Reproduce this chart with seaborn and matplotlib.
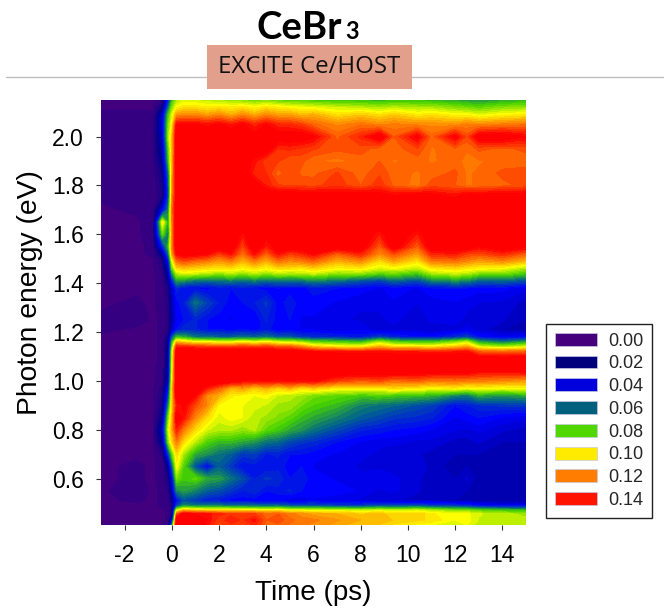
import numpy as np
import matplotlib
matplotlib.use("Agg")
import matplotlib.pyplot as plt
from matplotlib.lines import Line2D
from matplotlib.patches import Patch, Rectangle
import seaborn as sns

sns.set_style("ticks")
plt.rcParams['font.family'] = ['Liberation Sans', 'DejaVu Sans']
plt.rcParams['axes.unicode_minus'] = False

times = [-3, -1.5, -0.8, -0.4, -0.15, 0, 0.2, 0.5, 1, 1.5, 2, 2.5, 3, 3.5, 4, 4.5, 5, 5.5, 6, 7, 8, 8.8, 9.4, 10.4, 11, 12, 12.5, 13, 14, 15]
energies = [2.15, 2.12, 2.09, 2.05, 2.0, 1.95, 1.9, 1.85, 1.8, 1.76, 1.7, 1.65, 1.6, 1.55, 1.52, 1.49, 1.46, 1.44, 1.41, 1.38, 1.32, 1.25, 1.21, 1.18, 1.16, 1.14, 1.12, 1.09, 1.04, 1.0, 0.97, 0.94, 0.9, 0.85, 0.8, 0.75, 0.7, 0.65, 0.6, 0.55, 0.51, 0.49, 0.47, 0.455, 0.43, 0.41]

# signal in thousandths, one list per photon energy
r215 = [3,3,3,6,45,75,90,95,94,92,90,88,86,84,86,82,80,80,78,76,76,74,76,76,74,72,70,68,72,74]
r212 = [3,3,3,15,60,85,100,104,104,102,104,102,104,100,104,102,100,98,97,94,92,90,92,90,90,86,84,82,86,88]
r209 = [4,4,4,30,78,95,115,118,118,114,118,112,118,112,118,114,114,110,112,104,108,104,108,102,104,100,100,96,100,102]
r205 = [4,4,4,35,85,100,140,141,141,138,141,136,141,134,140,134,133,130,124,118,122,118,120,118,118,116,120,118,120,122]
r200 = [4,5,5,30,90,108,146,148,148,148,148,148,148,143,146,145,145,145,141,125,134,146,126,142,124,142,128,145,146,140]
r195 = [5,6,6,25,80,108,146,148,148,148,146,146,146,146,146,133,134,132,130,127,128,124,124,129,122,125,123,127,125,127]
r190 = [6,7,6,20,75,110,146,148,148,148,148,146,146,138,130,130,126,127,123,121,124,126,122,124,122,124,121,122,124,124]
r185 = [6,7,5,15,60,110,146,148,148,148,148,148,146,134,133,124,129,125,125,130,124,129,124,122,124,127,122,123,127,128]
r180 = [5,6,4,12,55,112,146,148,148,148,148,148,147,145,136,130,129,129,128,132,126,132,125,121,128,126,122,123,125,127]
r176 = [4,5,4,10,50,115,146,148,148,148,148,148,148,148,147,146,146,145,146,144,146,143,140,143,142,138,143,142,144,144]
r170 = [3,4,4,35,65,120,146,148,148,148,148,148,148,148,148,148,148,148,148,148,148,148,148,148,148,148,148,148,148,148]
r165 = [3,3,5,102,70,118,146,148,148,148,148,148,148,148,148,148,148,148,148,148,148,148,148,148,148,148,148,148,148,148]
r160 = [3,3,5,82,60,118,146,148,148,148,148,148,138,148,142,148,148,148,148,148,148,136,148,136,148,148,148,148,148,148]
r155 = [3,3,4,45,75,118,146,148,148,148,145,148,128,148,135,146,146,146,146,146,146,125,146,125,146,146,146,140,146,142]
r152 = [3,3,4,20,60,112,140,144,143,140,130,138,122,138,124,138,130,134,140,125,135,118,128,115,134,136,130,128,134,125]
r149 = [3,3,3,10,40,95,122,128,123,120,115,120,111,120,112,122,118,120,124,112,118,105,114,104,120,122,118,114,118,110]
r146 = [3,3,3,8,30,80,105,108,106,104,103,104,100,104,100,105,104,102,106,100,102,95,98,92,102,105,102,100,98,90]
r144 = [3,3,3,6,25,65,92,96,94,92,88,92,88,92,88,92,90,92,94,87,88,82,84,78,90,94,92,86,86,78]
r141 = [3,3,3,5,18,45,70,68,62,60,62,64,60,64,60,62,62,62,66,62,56,52,60,54,64,68,66,58,60,55]
r138 = [3,3,3,5,12,30,48,42,42,40,44,42,45,42,40,42,40,40,44,42,40,38,40,38,42,42,42,40,40,36]
r132 = [3,4,3,5,10,25,40,45,62,52,45,40,42,45,50,40,44,40,40,38,36,36,38,35,36,38,36,35,34,30]
r125 = [4,5,3,4,8,24,38,42,46,42,40,38,40,38,46,40,42,38,38,36,34,34,36,32,36,36,34,32,32,28]
r121 = [4,3,3,4,8,28,42,48,46,42,42,40,42,40,44,38,40,38,38,35,38,32,34,34,32,34,36,34,28,26]
r118 = [3,3,3,4,14,55,75,72,62,60,58,58,60,58,62,56,56,50,48,46,44,52,46,42,42,48,52,42,38,40]
r116 = [3,3,3,4,18,70,110,105,98,98,96,96,100,96,100,94,92,88,80,78,74,90,80,76,76,85,92,70,62,70]
r114 = [3,3,3,4,20,80,135,135,132,130,130,128,132,128,132,125,125,118,108,102,100,112,104,104,102,108,114,95,90,95]
r112 = [3,3,3,4,22,90,146,148,148,148,148,148,148,148,148,146,146,143,140,138,136,138,136,136,134,136,138,125,122,125]
r109 = [3,3,3,4,24,92,148,148,148,148,148,148,148,148,148,148,148,148,148,148,148,148,148,148,148,148,148,147,146,146]
r104 = [3,3,3,5,26,95,148,148,148,148,148,148,148,148,148,148,148,148,148,148,148,148,148,146,146,143,145,140,140,142]
r100 = [3,3,3,6,30,100,148,148,148,148,148,145,140,138,140,138,140,138,140,130,125,128,122,125,120,122,120,120,118,115]
r097 = [3,3,3,8,40,105,148,148,146,135,125,112,115,108,112,106,112,104,108,102,104,102,106,102,100,102,98,100,98,100]
r094 = [3,3,3,10,50,105,146,146,140,118,112,102,100,98,100,94,92,90,85,82,78,80,78,76,74,65,62,72,68,72]
r090 = [3,3,3,12,65,105,135,142,128,118,100,100,98,96,94,90,90,84,80,75,65,62,60,55,52,42,45,48,50,50]
r085 = [3,3,3,18,85,108,145,138,118,105,96,100,98,92,90,86,82,76,72,65,58,54,50,48,46,38,40,42,38,36]
r080 = [3,3,3,30,95,112,135,120,105,95,92,92,88,92,82,78,72,68,62,54,46,44,42,40,38,35,34,36,32,30]
r075 = [3,3,3,20,85,105,120,105,92,80,75,75,72,68,62,60,54,50,48,42,38,36,36,34,34,30,30,32,28,28]
r070 = [3,3,3,8,50,80,105,90,72,68,62,58,50,52,45,46,42,42,40,38,36,34,32,32,30,28,28,28,26,26]
r065 = [3,4,3,5,20,55,100,80,55,40,58,50,42,44,42,44,40,42,38,38,34,34,32,34,30,26,28,26,26,26]
r060 = [3,4,3,5,12,35,85,78,82,72,70,62,55,45,50,48,42,44,40,38,36,38,36,32,30,28,32,26,26,26]
r055 = [3,5,3,4,8,25,65,70,65,58,55,50,45,48,42,44,46,42,40,40,38,34,36,32,30,30,28,28,27,28]
r051 = [3,4,3,4,6,15,40,55,50,45,44,40,40,40,38,38,36,36,38,36,34,32,32,30,30,28,28,26,24,24]
r049 = [3,3,3,4,5,10,50,66,62,62,62,60,60,58,58,58,54,54,54,50,50,54,52,54,50,48,46,40,38,38]
r047 = [3,3,3,3,4,8,95,112,108,106,106,106,104,104,102,104,98,98,96,96,94,96,94,96,92,86,86,82,78,76]
r0455 = [3,3,3,3,4,8,125,145,140,138,134,132,130,130,124,126,120,118,114,112,108,110,106,108,102,99,99,95,92,90]
r043 = [3,3,3,3,4,30,148,148,146,140,130,136,132,138,126,128,124,120,120,116,112,112,108,106,104,98,100,94,92,92]
r041 = [3,3,3,3,5,60,148,148,145,138,128,132,128,134,124,125,122,120,118,114,108,108,104,100,98,96,98,92,92,92]

legend_values = ["0.00", "0.02", "0.04", "0.06", "0.08", "0.10", "0.12", "0.14"]
legend_colors = ["#46007d", "#00007d", "#0000dc", "#005f7d", "#50d700", "#ffeb00", "#ff7d00", "#ff1400"]
map_colors = ["#46007d", "#00008c", "#0000ff", "#00648c", "#46d200", "#ffff00", "#ff8000", "#ff0000", "#ff0000"]

rows = [r215, r212, r209, r205, r200, r195, r190, r185, r180, r176, r170, r165, r160, r155, r152, r149, r146, r144, r141, r138, r132, r125, r121, r118, r116, r114, r112, r109, r104, r100, r097, r094, r090, r085, r080, r075, r070, r065, r060, r055, r051, r049, r047, r0455, r043, r041]
signal = np.array(rows) / 1000.0

cmap = sns.blend_palette(map_colors, n_colors=256, as_cmap=True)

fig = plt.figure(figsize=(6.64, 6.08), dpi=100)
ax = fig.add_axes([101 / 664, 83 / 608, 425 / 664, 425 / 608])
ax.contourf(times, energies, signal, levels=np.arange(0, 0.1621, 0.0035), cmap=cmap, vmin=0, vmax=0.16, extend="both")
ax.set_xlim(-3, 15)
ax.set_ylim(0.41, 2.15)
ax.set_xticks(np.arange(-2, 15, 2))
ax.set_yticks([0.6, 0.8, 1.0, 1.2, 1.4, 1.6, 1.8, 2.0])
ax.set_yticklabels(["0.6", "0.8", "1.0", "1.2", "1.4", "1.6", "1.8", "2.0"])
ax.tick_params(axis="both", direction="out", length=3.3, width=0.8, color="#333333", labelsize=16.5, labelcolor="black")
ax.tick_params(axis="y", pad=9)
ax.tick_params(axis="x", pad=10.5)
ax.set_xlabel("Time (ps)", fontsize=20, color="black")
ax.xaxis.set_label_coords(0.5, -0.129)
ax.set_ylabel("Photon energy (eV)", fontsize=20.3, color="black")
ax.yaxis.set_label_coords(-0.137, 0.548)
sns.despine(ax=ax, left=True, bottom=True, top=True, right=True)

handles = [Patch(facecolor=c, edgecolor="#c8c8e0", linewidth=0.5) for c in legend_colors]
leg = fig.legend(handles, legend_values, loc="lower left", bbox_to_anchor=(546 / 664, 90 / 608), bbox_transform=fig.transFigure,
                 frameon=True, fancybox=False, edgecolor="#222222", framealpha=1, fontsize=13, labelspacing=0.32,
                 handlelength=2.33, handleheight=0.72, handletextpad=0.6, borderpad=0.5, borderaxespad=0)
leg.get_frame().set_linewidth(1.0)

fig.add_artist(Line2D([6 / 664, 1], [1 - 77 / 608] * 2, color="#bfbfbf", linewidth=1, transform=fig.transFigure))
fig.add_artist(Rectangle((207 / 664, 1 - 89 / 608), 205 / 664, 44 / 608, facecolor="#e29f8c", edgecolor="none", transform=fig.transFigure, zorder=3))
fig.text(309 / 664, 1 - 67 / 608, "EXCITE Ce/HOST", fontsize=17.3, family="Open Sans", ha="center", va="center", color="#111111", zorder=4)
fig.text(257 / 664, 1 - 39 / 608, "CeBr", fontsize=27.5, family="Lato", fontweight="bold", ha="left", va="baseline", color="black")
fig.text(345 / 664, 1 - 39 / 608, "3", fontsize=17, family="Lato", fontweight="bold", ha="left", va="baseline", color="black")

fig.savefig("out.png", dpi=100)
